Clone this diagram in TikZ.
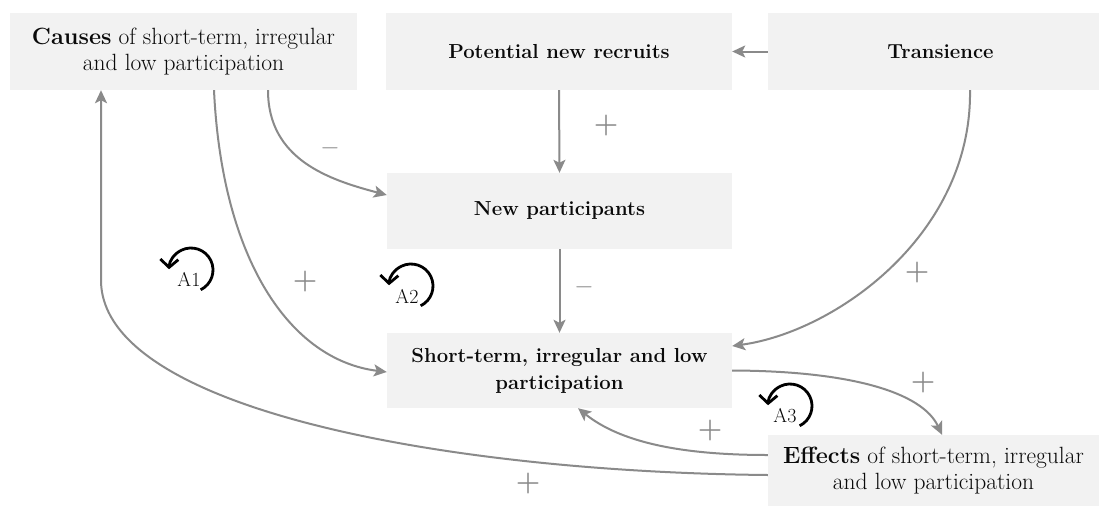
\documentclass[tikz,border=0pt]{standalone}
\usepackage{fontspec}
\usetikzlibrary{arrows.meta}
\definecolor{boxfill}{RGB}{242,242,242}
\definecolor{arr}{RGB}{138,138,138}
\definecolor{txt}{RGB}{10,10,10}
\begin{document}
\begin{tikzpicture}[x=1pt,y=-1pt,
  box/.style={fill=boxfill, draw=none, inner sep=0pt, align=center, text=txt},
  mixed/.style={box, font=\fontsize{23.5}{26.5}\selectfont},
  boldbox/.style={box, font=\bfseries\fontsize{20.3}{27}\selectfont},
  link/.style={draw=arr, line width=2pt, -{Stealth[length=13pt,width=12pt,inset=3pt]}},
  sign/.style={text=arr, font=\bfseries\fontsize{28}{28}\selectfont, inner sep=0pt},
  loopmark/.style={line width=2.8pt, draw=black, -{Straight Barb[length=8pt,width=18pt]}},
  looplabel/.style={font=\fontsize{20}{20}\selectfont, text=txt, inner sep=0pt}]
\useasboundingbox (0,0) rectangle (1099,506);
\fill[white] (0,0) rectangle (1099,506);

% boxes
\node[mixed, minimum width=347pt, minimum height=77pt] (causes) at (183.5,51.5)
  {\textbf{Causes} of short-term, irregular\\and low participation};
\node[boldbox, minimum width=346pt, minimum height=77pt] (potential) at (559,51.5)
  {Potential new recruits};
\node[boldbox, minimum width=331pt, minimum height=77pt] (trans) at (933.5,51.5)
  {\hspace{14pt}Transience};
\node[boldbox, minimum width=345pt, minimum height=76pt] (newp) at (559.5,211)
  {New participants};
\node[boldbox, minimum width=345pt, minimum height=75pt] (short) at (559.5,370.5)
  {Short-term, irregular and low\\participation};
\node[mixed, minimum width=331pt, minimum height=71pt] (effects) at (933.5,470.5)
  {\textbf{Effects} of short-term, irregular\\and low participation};

% connectors
\draw[link] (trans.west) -- (potential.east);
\draw[link] (potential.south) -- (newp.north);
\draw[link] (newp.south) -- (short.north);
\draw[link] ([xshift=84.5pt]causes.south) .. controls (268,160) and (330,180) .. ([yshift=16pt]newp.west);
\draw[link] ([xshift=30.5pt]causes.south) .. controls (222,260) and (290,360) .. ([yshift=-1.5pt]short.west);
\draw[link] ([xshift=36.5pt]trans.south) .. controls (972,235) and (835,332) .. ([yshift=24.5pt]short.east);
\draw[link] (short.east) .. controls (850,371) and (922,392) .. ([xshift=8.5pt]effects.north);
\draw[link] ([yshift=15.5pt]effects.west) .. controls (680,455) and (620,442) .. ([xshift=18.5pt]short.south);
\draw[link] ([yshift=-4.5pt]effects.west) .. controls (450,472) and (101,410) .. (101,280) -- ([xshift=-82.5pt]causes.south);

% signs
\node[sign] (s1) at (606,126) {+};
\node[sign] (s2) at (330,148) {$-$};
\node[sign] (s3) at (305,282) {+};
\node[sign] (s4) at (584,287) {$-$};
\node[sign] (s5) at (917,273) {+};
\node[sign] (s6) at (923,383) {+};
\node[sign] (s7) at (710,431) {+};
\node[sign] (s8) at (528,484) {+};

% loop markers
\coordinate (l1) at (191,270);
\coordinate (l2) at (411,286);
\coordinate (l3) at (790,406);
\draw[loopmark] ([shift={(-64:22pt)}]l1) arc[start angle=-64, end angle=178, radius=22pt];
\draw[loopmark] ([shift={(-64:22pt)}]l2) arc[start angle=-64, end angle=178, radius=22pt];
\draw[loopmark] ([shift={(-64:22pt)}]l3) arc[start angle=-64, end angle=178, radius=22pt];
\node[looplabel] (a1) at (189,279) {A1};
\node[looplabel] (a2) at (407,296) {A2};
\node[looplabel] (a3) at (785,416) {A3};
\end{tikzpicture}
\end{document}
